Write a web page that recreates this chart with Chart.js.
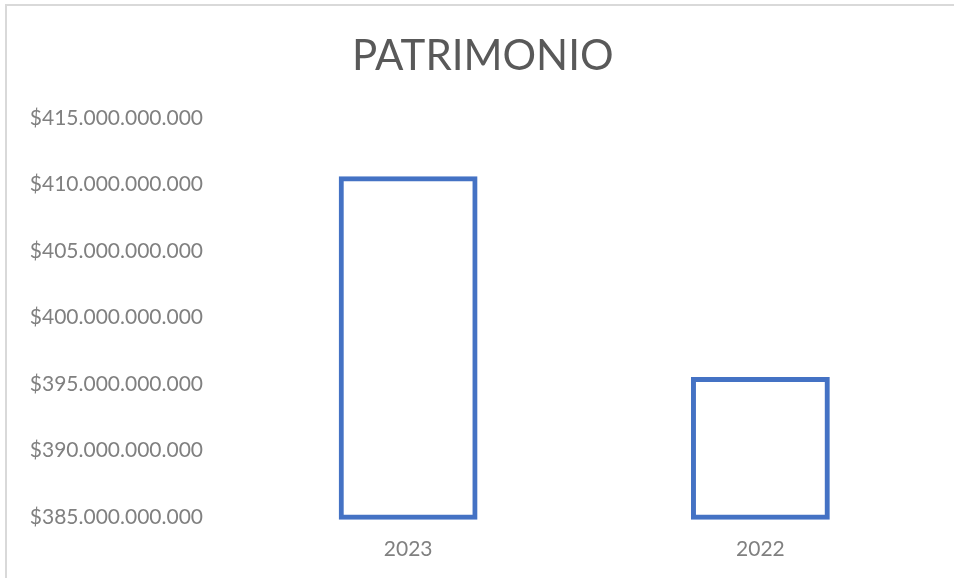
<!DOCTYPE html>
<html>
<head>
<meta charset="utf-8">
<script src="https://cdn.jsdelivr.net/npm/chart.js@4"></script>
<style>
  html, body { margin: 0; padding: 0; background: #fff; }
  #wrap { position: relative; width: 954px; height: 578px; }
  #frame { position: absolute; left: 5px; top: 4px; right: 0; bottom: 0;
           border-top: 2px solid #d9d9d9; border-left: 2px solid #d9d9d9;
           pointer-events: none; }
</style>
</head>
<body>
<div id="wrap">
  <canvas id="c" width="954" height="578"></canvas>
  <div id="frame"></div>
</div>
<script>
const categories = ['2023', '2022'];
const patrimonio = [410430000000, 395350000000];
const yMin = 385000000000;
const yMax = 415000000000;
const yStep = 5000000000;
const chartTitle = 'PATRIMONIO';

function fmt(v) {
  return '$' + Math.round(v).toString().replace(/\B(?=(\d{3})+(?!\d))/g, '.');
}

const FONT = 'Lato, "Open Sans", sans-serif';

new Chart(document.getElementById('c'), {
  type: 'bar',
  data: {
    labels: categories,
    datasets: [{
      data: patrimonio,
      base: yMin,
      backgroundColor: '#ffffff',
      borderColor: '#4472c4',
      borderWidth: 5,
      borderSkipped: false,
      inflateAmount: 2.5,
      clip: false,
      categoryPercentage: 1,
      barPercentage: 0.38
    }]
  },
  options: {
    responsive: false,
    animation: false,
    devicePixelRatio: 1,
    layout: { padding: { left: 29, right: 17.5, top: 10, bottom: 0 } },
    plugins: {
      legend: { display: false },
      tooltip: { enabled: false },
      title: {
        display: true,
        text: chartTitle,
        color: '#595959',
        font: { family: FONT, size: 42, weight: 'normal', lineHeight: 1.2 },
        padding: { top: 21.5, bottom: 36 }
      }
    },
    scales: {
      x: {
        grid: { display: false, drawTicks: false },
        border: { display: false },
        ticks: { color: '#808080', font: { family: FONT, size: 21 }, padding: 19 },
        afterFit: s => { s.height = 60.7; }
      },
      y: {
        min: yMin,
        max: yMax,
        grid: { display: false, drawTicks: false },
        border: { display: false },
        ticks: {
          stepSize: yStep,
          color: '#808080',
          font: { family: FONT, size: 21 },
          padding: 29,
          callback: v => fmt(v)
        },
        afterFit: s => { s.width = 203; }
      }
    }
  }
});
</script>
</body>
</html>
